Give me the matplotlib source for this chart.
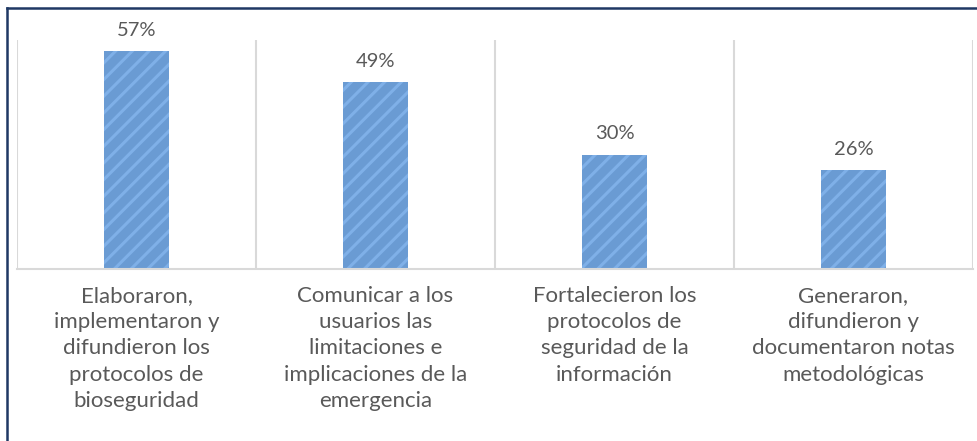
import numpy as np
import matplotlib.pyplot as plt
from matplotlib.lines import Line2D

categories = ['Elaboraron,\nimplementaron y\ndifundieron los\nprotocolos de\nbioseguridad',
              'Comunicar a los\nusuarios las\nlimitaciones e\nimplicaciones de la\nemergencia',
              'Fortalecieron los\nprotocolos de\nseguridad de la\ninformación',
              'Generaron,\ndifundieron y\ndocumentaron notas\nmetodológicas']
values = [57, 49, 30, 26]
labels = ['57%', '49%', '30%', '26%']

plt.rcParams['font.family'] = ['Lato', 'DejaVu Sans']
plt.rcParams['hatch.linewidth'] = 2.2
plt.rcParams['hatch.color'] = '#7FB0E8'

fig = plt.figure(figsize=(9.78, 4.41), dpi=100)
ax = fig.add_axes([17 / 978, 1 - 269 / 441, 956 / 978, 229 / 441])

x = np.arange(len(values))
bars = ax.bar(x, values, width=0.27, color='#6A9BD3', edgecolor='#7FB0E8',
              linewidth=0, hatch='//')
for xi, v, lab in zip(x, values, labels):
    ax.text(xi, v + 3.2, lab, ha='center', va='bottom', fontsize=14.5,
            color='#595959')

ax.set_xlim(-0.5, len(values) - 0.5)
ax.set_ylim(0, 60)
ax.set_yticks([])
ax.set_xticks(x)
ax.set_xticklabels(categories, fontsize=16, color='#595959', linespacing=1.4)
ax.tick_params(axis='x', length=0, pad=12)
for s in ['top', 'left', 'right']:
    ax.spines[s].set_visible(False)
ax.spines['bottom'].set_color('#D9D9D9')
ax.spines['bottom'].set_linewidth(1.5)
for b in np.arange(-0.5, len(values), 1.0):
    ax.axvline(b, color='#D9D9D9', linewidth=1.5, zorder=0)

# dark frame around the chart (right and bottom cut off in the reference)
fig.add_artist(Line2D([7 / 978, 1], [1 - 8 / 441, 1 - 8 / 441], color='#1F3864', linewidth=1.8))
fig.add_artist(Line2D([7 / 978, 7 / 978], [0, 1 - 8 / 441], color='#1F3864', linewidth=1.8))

fig.savefig('out.png', dpi=100)
